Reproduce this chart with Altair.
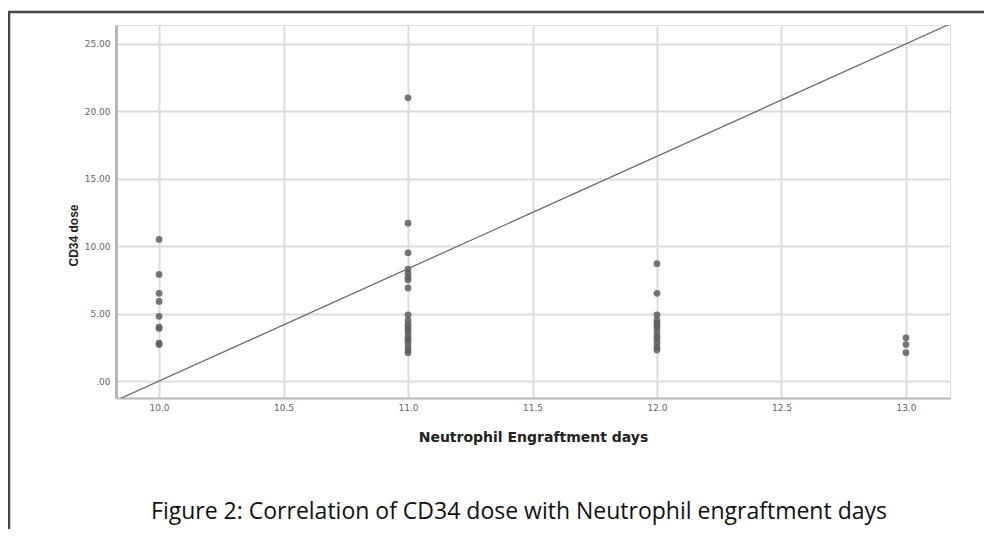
import altair as alt
import pandas as pd

# Scatter data: Neutrophil engraftment days vs CD34 dose
days_10 = [10.5, 7.9, 6.5, 5.9, 4.8, 4.0, 3.9, 2.8, 2.7]
days_11 = [21.0, 11.7, 9.5, 8.3, 8.0, 7.7, 7.5, 6.9, 4.9, 4.5, 4.2, 4.0, 3.8,
           3.6, 3.3, 3.1, 2.9, 2.6, 2.3, 2.1]
days_12 = [8.7, 6.5, 4.9, 4.5, 4.3, 4.1, 3.9, 3.6, 3.3, 3.1, 2.8, 2.5, 2.3]
days_13 = [3.2, 2.7, 2.1]

# Reference line endpoints (through (10, 0) and (13, 25))
line_x = [9.80, 13.20]
line_y = [-1.67, 26.67]

x_ticks = [10.0, 10.5, 11.0, 11.5, 12.0, 12.5, 13.0]
y_ticks = [0, 5, 10, 15, 20, 25]

caption = "Figure 2: Correlation of CD34 dose with Neutrophil engraftment days"

rows = []
for d, vals in [(10.0, days_10), (11.0, days_11), (12.0, days_12), (13.0, days_13)]:
    for v in vals:
        rows.append({"days": d, "dose": v})
pts = pd.DataFrame(rows)
ln = pd.DataFrame({"days": line_x, "dose": line_y})

W, H = 834, 373
xs = alt.Scale(domain=[9.827, 13.177], nice=False, zero=False)
ys = alt.Scale(domain=[-1.26, 26.4], nice=False, zero=False)

xaxis = alt.Axis(values=x_ticks, format=".1f", title="Neutrophil Engraftment days",
                 grid=True, gridColor="#dcdcdc", gridWidth=2, ticks=False,
                 domainColor="#b5b5b5", domainWidth=2, labelColor="#666666",
                 labelFontSize=9, labelFont="DejaVu Sans", labelPadding=5,
                 titleFont="DejaVu Sans", titleFontSize=14, titleFontWeight="bold",
                 titleColor="#222222", titlePadding=18)
yaxis = alt.Axis(values=y_ticks, labelExpr="datum.value == 0 ? '.00' : format(datum.value, '.2f')",
                 title="CD34 dose", grid=True, gridColor="#dcdcdc", gridWidth=2, ticks=False,
                 domainColor="#b5b5b5", domainWidth=3, labelColor="#666666",
                 labelFontSize=9, labelFont="DejaVu Sans", labelPadding=6,
                 titleFont="Liberation Sans", titleFontSize=12, titleFontWeight="bold",
                 titleColor="#222222", titlePadding=4, titleY=210)

points = alt.Chart(pts).mark_circle(size=46, color="#5e5e5e", opacity=0.85).encode(
    x=alt.X("days:Q", scale=xs, axis=xaxis),
    y=alt.Y("dose:Q", scale=ys, axis=yaxis),
)

fit = alt.Chart(ln).mark_line(color="#6e6e6e", strokeWidth=1.3, clip=True).encode(
    x=alt.X("days:Q", scale=xs),
    y=alt.Y("dose:Q", scale=ys),
)

frame_left = alt.Chart(pd.DataFrame({"a": [0]})).mark_rule(
    color="#444444", strokeWidth=2.5).encode(
    x=alt.value(-107), y=alt.value(-13), y2=alt.value(520))
frame_top = alt.Chart(pd.DataFrame({"a": [0]})).mark_rule(
    color="#444444", strokeWidth=2.5).encode(
    x=alt.value(-108), x2=alt.value(880), y=alt.value(-13))

cap = alt.Chart(pd.DataFrame({"t": [caption]})).mark_text(
    font="Open Sans", fontSize=23, color="#111111", align="center", baseline="middle"
).encode(text="t:N", x=alt.value(403), y=alt.value(487))

chart = alt.layer(points, fit, frame_left, frame_top, cap).properties(
    width=W, height=H,
    autosize=alt.AutoSizeParams(type="none"),
    padding={"left": 108, "top": 17, "right": 34, "bottom": 131},
).configure_view(stroke=None).configure(background="white")

chart.save("out.html", embed_options={"renderer": "svg", "actions": False})
